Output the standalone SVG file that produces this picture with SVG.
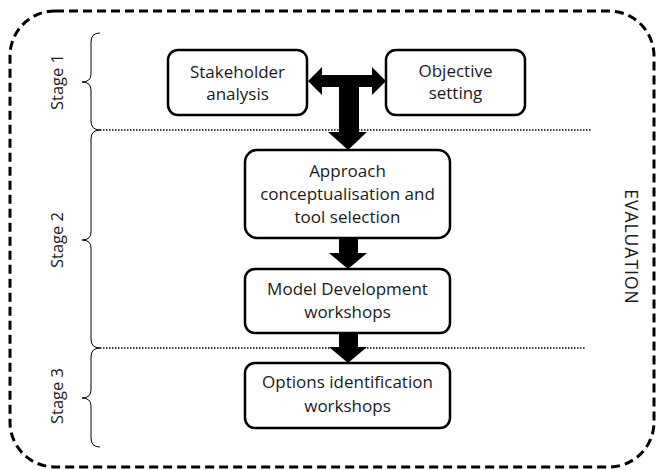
<svg xmlns="http://www.w3.org/2000/svg" width="657" height="470" viewBox="0 0 657 470">
<style>
.box{fill:#fff;stroke:#000;stroke-width:2.5}
.t{font-family:"Open Sans","Noto Sans",sans-serif;font-size:17px;fill:#1a1a1a;text-anchor:middle}
.s{font-size:16.5px}
.brace{fill:none;stroke:#000;stroke-width:1}
.dot{fill:none;stroke:#000;stroke-width:1.5;stroke-dasharray:1.5 1.5}
.arr{fill:#000;stroke:none}
</style>
<rect x="10" y="11" width="644" height="456" rx="45" ry="45" fill="none" stroke="#000" stroke-width="3" stroke-dasharray="9 5"/>
<g id="dividers">
<line class="dot" x1="100" y1="130" x2="592" y2="130"/>
<line class="dot" x1="100" y1="348" x2="585" y2="348"/>
</g>
<g id="stage1">
<path class="brace" d="M100,33 Q91,33 91,42 L91,74 Q91,82 82,82 Q91,82 91,90 L91,121 Q91,130 100,130"/>
<text class="t s" transform="translate(63,82) rotate(-90)">Stage 1</text>
</g>
<g id="stage2">
<path class="brace" d="M100,130 Q91,130 91,139 L91,232 Q91,240 82,240 Q91,240 91,248 L91,339 Q91,348 100,348"/>
<text class="t s" transform="translate(63,240) rotate(-90)">Stage 2</text>
</g>
<g id="stage3">
<path class="brace" d="M100,348 Q91,348 91,357 L91,390 Q91,398 82,398 Q91,398 91,406 L91,438 Q91,447 100,447"/>
<text class="t s" transform="translate(63,396) rotate(-90)">Stage 3</text>
</g>
<g id="evaluation">
<text class="t" style="font-size:17.5px;letter-spacing:1px" transform="translate(625,247) rotate(90)">EVALUATION</text>
</g>
<g id="connectors">
<path class="arr" d="M308,81 L322,67 L322,75 L372,75 L372,67 L386,81 L372,95 L372,87 L359,87 L359,132 L367,132 L348,150 L328,132 L339,132 L339,87 L322,87 L322,95 Z"/>
<path class="arr" d="M339,238 L358,238 L358,253 L367,253 L348,269 L329,253 L339,253 Z"/>
<path class="arr" d="M339,333 L358,333 L358,347 L367,347 L348,363 L329,347 L339,347 Z"/>
</g>
<g id="stakeholder">
<rect class="box" x="168" y="50" width="139" height="65" rx="10"/>
<text class="t" x="237.5" y="78">Stakeholder</text>
<text class="t" x="237.5" y="100">analysis</text>
</g>
<g id="objective">
<rect class="box" x="386" y="50" width="139" height="65" rx="10"/>
<text class="t" x="455.5" y="77">Objective</text>
<text class="t" x="455.5" y="99">setting</text>
</g>
<g id="approach">
<rect class="box" x="245" y="150" width="205" height="88" rx="12"/>
<text class="t" x="347.5" y="177">Approach</text>
<text class="t" x="347.5" y="200">conceptualisation and</text>
<text class="t" x="347.5" y="223">tool selection</text>
</g>
<g id="model">
<rect class="box" x="245" y="269" width="205" height="64" rx="10"/>
<text class="t" x="347.5" y="295">Model Development</text>
<text class="t" x="347.5" y="318">workshops</text>
</g>
<g id="options">
<rect class="box" x="245" y="363" width="205" height="65" rx="10"/>
<text class="t" x="347.5" y="388">Options identification</text>
<text class="t" x="347.5" y="412">workshops</text>
</g>
</svg>
